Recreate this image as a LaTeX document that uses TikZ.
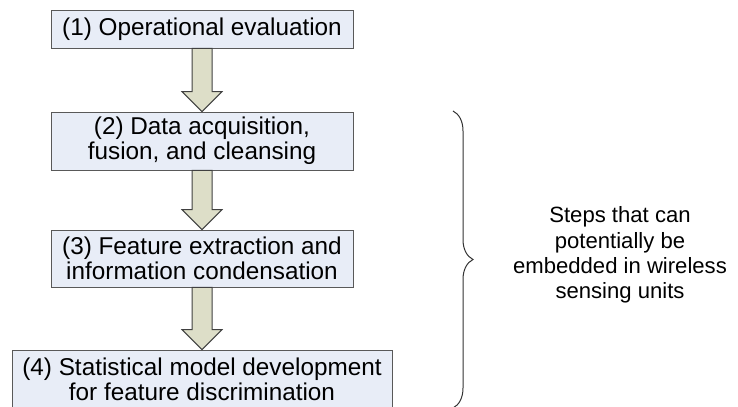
\documentclass[tikz,border=0pt]{standalone}
\usepackage{fontspec}
\setmainfont{Liberation Sans}
\usetikzlibrary{calc,decorations.pathreplacing}
\definecolor{boxfill}{RGB}{232,237,247}
\definecolor{arrfill}{RGB}{221,222,200}
\begin{document}
\begin{tikzpicture}[x=0.5bp,y=0.5bp,
  every node/.style={font=\fontsize{12.15bp}{12.6bp}\selectfont},
  stepbox/.style={draw=black!65,fill=boxfill,align=center,inner sep=0pt,minimum width=151bp},
  fatarr/.style={draw=black!75,fill=arrfill,line width=0.5bp,line join=miter}]
\useasboundingbox (0,0) rectangle (738,407);
\node[stepbox,minimum height=19bp] (b1) at (202,378) {(1) Operational evaluation};
\node[stepbox,minimum height=29bp] (b2) at (202,266) {(2) Data acquisition,\\fusion, and cleansing};
\node[stepbox,minimum height=28.5bp] (b3) at (202,148.5) {(3) Feature extraction and\\information condensation};
\node[stepbox,minimum height=29bp,minimum width=190bp] (b4) at (202,28) {(4) Statistical model development\\for feature discrimination};
\foreach \a/\b in {b1/b2,b2/b3,b3/b4}
  \draw[fatarr] ($(\a.south)+(-10,0)$) -- ($(\b.north)+(-10,20)$) -- ($(\b.north)+(-20,20)$)
    -- (\b.north) -- ($(\b.north)+(20,20)$) -- ($(\b.north)+(10,20)$) -- ($(\a.south)+(10,0)$) -- cycle;
\coordinate (brtop) at (453,296);
\coordinate (brbot) at (453,-1);
\draw[black!80,line width=0.5bp,decorate,decoration={brace,amplitude=10bp,aspect=0.5}] (brtop) -- (brbot);
\node[align=center,font=\fontsize{11.05bp}{12.6bp}\selectfont] (note) at (620,152) {Steps that can\\potentially be\\embedded in wireless\\sensing units};
\end{tikzpicture}
\end{document}
